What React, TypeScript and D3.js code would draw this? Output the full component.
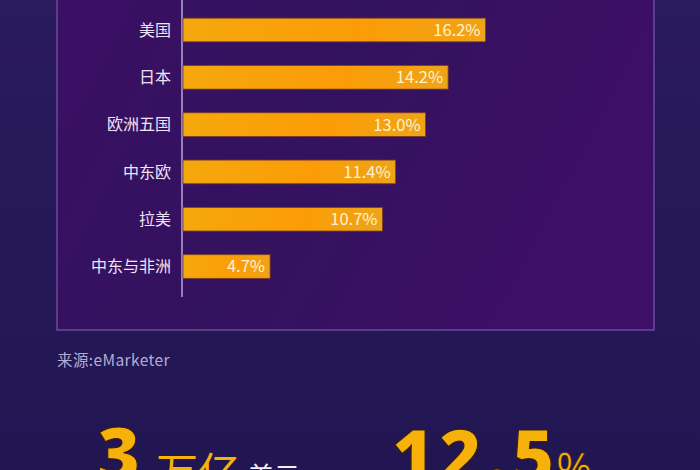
import React from "react";
import * as d3 from "d3";

const categories = ["美国", "日本", "欧洲五国", "中东欧", "拉美", "中东与非洲"];
const values = [16.2, 14.2, 13.0, 11.4, 10.7, 4.7];
const valueLabels = ["16.2%", "14.2%", "13.0%", "11.4%", "10.7%", "4.7%"];
const sourceText = "来源:eMarketer";
const bigNumber = "3";
const bigUnit = "万亿";
const bigCurrency = "美元";
const bigRate = "12.5";
const bigRateUnit = "%";

const W = 700;
const H = 470;
const FONT = "'Noto Sans CJK SC', 'Noto Sans', sans-serif";
const DIGIT_FONT = "'Open Sans', 'Noto Sans', sans-serif";

export default function App() {
  const x = d3.scaleLinear().domain([0, 20]).range([182, 556.8]);
  const y = d3
    .scaleBand<string>()
    .domain(categories)
    .range([-5.5, 302])
    .paddingInner(0.5)
    .paddingOuter(0.5);
  const bw = y.bandwidth();

  return (
    <svg
      width={W}
      height={H}
      style={{ position: "absolute", left: 0, top: 0 }}
      fontFamily={FONT}
    >
      <defs>
        <linearGradient id="bg" x1="0" y1="0" x2="0" y2="1">
          <stop offset="0" stopColor="#2a1a5e" />
          <stop offset="1" stopColor="#211652" />
        </linearGradient>
        <linearGradient id="panel" x1="0" y1="0" x2="1" y2="0.3">
          <stop offset="0" stopColor="#3a0f64" />
          <stop offset="0.5" stopColor="#33125e" />
          <stop offset="1" stopColor="#3e0f66" />
        </linearGradient>
        <linearGradient id="bar" x1="0" y1="0" x2="1" y2="0">
          <stop offset="0" stopColor="#f4a80c" />
          <stop offset="0.6" stopColor="#fc9c06" />
          <stop offset="1" stopColor="#eea418" />
        </linearGradient>
      </defs>
      <rect x={0} y={0} width={W} height={H} fill="url(#bg)" />
      <rect
        x={57}
        y={-10}
        width={597}
        height={340}
        fill="url(#panel)"
        stroke="#6b4a9c"
        strokeWidth={1.5}
      />
      <line x1={x(0)} x2={x(0)} y1={0} y2={297} stroke="#b7a6d8" strokeWidth={1.5} />
      {categories.map((c, i) => {
        const yy = y(c) as number;
        return (
          <g key={c}>
            <rect
              x={x(0) + 1}
              y={yy}
              width={x(values[i]) - x(0) - 1}
              height={bw}
              fill="url(#bar)"
              stroke="#7a3e22"
              strokeWidth={0.8}
            />
            <text
              x={171}
              y={yy + bw / 2}
              dy="0.36em"
              textAnchor="end"
              fontSize={16}
              fill="#ece4f4"
            >
              {c}
            </text>
            <text
              x={x(values[i]) - 5}
              y={yy + bw / 2}
              dy="0.36em"
              textAnchor="end"
              fontSize={16.5}
              fill="#fff2d2"
            >
              {valueLabels[i]}
            </text>
          </g>
        );
      })}
      <text x={57} y={366} fontSize={15.5} fill="#b4acd4" letterSpacing={0.4}>
        {sourceText}
      </text>
      <text
        x={97}
        y={481}
        fontSize={74}
        fontFamily={DIGIT_FONT}
        fontWeight={800}
        fill="#f6b10a"
        stroke="#3a1c10"
        strokeWidth={1.2}
      >
        {bigNumber}
      </text>
      <text x={156} y={488} fontSize={42} fill="#f6b10a">
        {bigUnit}
      </text>
      <text x={248} y={486} fontSize={26} fill="#f2eef8">
        {bigCurrency}
      </text>
      <text
        x={392}
        y={482}
        fontSize={72}
        fontFamily={DIGIT_FONT}
        fontWeight={800}
        fill="#f6b10a"
        stroke="#3a1c10"
        strokeWidth={1.2}
        letterSpacing={5}
      >
        {bigRate}
      </text>
      <text
        x={556}
        y={484}
        fontSize={44}
        fontFamily={DIGIT_FONT}
        fill="#f6b10a"
        stroke="#3a1c10"
        strokeWidth={0.6}
      >
        {bigRateUnit}
      </text>
    </svg>
  );
}
